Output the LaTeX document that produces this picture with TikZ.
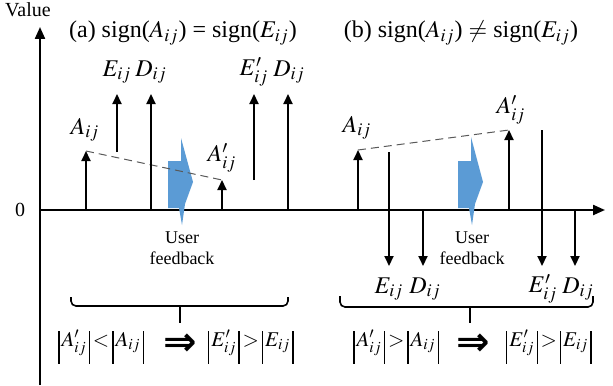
\documentclass[tikz,border=0pt]{standalone}
\usepackage{mathptmx}
\usepackage[no-math]{fontspec}
\setmainfont{Liberation Serif}
\newfontfamily\symfont{DejaVu Sans}
\usetikzlibrary{arrows.meta}
\definecolor{fbblue}{RGB}{91,155,213}
\newcommand{\absv}[1]{\rule[-8.5pt]{0.6pt}{16.5pt}\hspace{1pt}#1\hspace{1pt}\rule[-8.5pt]{0.6pt}{16.5pt}}
\tikzset{
  axs/.style={-{Triangle[width=5pt,length=6pt]}, line width=1.1pt},
  vec/.style={-{Triangle[width=4.5pt,length=5pt]}, line width=1pt},
  lbl/.style={inner sep=0pt, font=\fontsize{12}{14}\selectfont},
  fbk/.style={inner sep=0pt, align=center, font=\fontsize{9}{10.5}\selectfont},
  dsh/.style={dash pattern=on 4pt off 2.5pt, black!65, line width=0.5pt},
  blk/.style={fill=fbblue, draw=none},
  brc/.style={line width=0.8pt, rounded corners=2.5pt},
  rel/.style={inner sep=0pt, font=\fontsize{10.5}{12}\selectfont},
  imp/.style={inner sep=0pt, font=\symfont\bfseries\fontsize{20}{20}\selectfont}
}

\begin{document}
\begin{tikzpicture}[x=0.5pt, y=-0.5pt]
\useasboundingbox (0,0) rectangle (613,385);
% axes
\coordinate (org) at (40,210);
\coordinate (ytop) at (40,27);
\coordinate (ybot) at (40,385);
\coordinate (xend) at (605,210);
\draw[axs] (ybot) -- (ytop);
\draw[axs] (org) -- (xend);
\node[font=\fontsize{10}{12}\selectfont, inner sep=0pt] (val) at (28,10) {Value};
\node[font=\fontsize{10}{12}\selectfont, inner sep=0pt] (zero) at (20,210) {0};

% (a)
\node[lbl] (ta) at (183,33) {(a) sign($A_{ij}$) = sign($E_{ij}$)};
\coordinate (aA0) at (86,210);  \coordinate (aA1) at (86,151);
\coordinate (aE0) at (117,152); \coordinate (aE1) at (117,94);
\coordinate (aD0) at (151,210); \coordinate (aD1) at (151,94);
\coordinate (aP0) at (222,210); \coordinate (aP1) at (222,180);
\coordinate (aQ0) at (254,180); \coordinate (aQ1) at (254,94);
\coordinate (aR0) at (288,210); \coordinate (aR1) at (288,94);
\draw[blk] (168,161) -- (181,161) -- (181,138) -- (193,182) -- (185,204)
  -- (182,225) -- (179,208) -- (168,208) -- cycle;
\draw[dsh] (aA1) -- (aP1);
\draw[vec] (aA0) -- (aA1); \draw[vec] (aE0) -- (aE1); \draw[vec] (aD0) -- (aD1);
\draw[vec] (aP0) -- (aP1); \draw[vec] (aQ0) -- (aQ1); \draw[vec] (aR0) -- (aR1);
\node[lbl] (aA) at (85,130) {$A_{ij}$};
\node[lbl] (aE) at (117,72) {$E_{ij}$};
\node[lbl] (aD) at (151,72) {$D_{ij}$};
\node[lbl] (aP) at (222,158) {$A'_{ij}$};
\node[lbl] (aQ) at (254,72) {$E'_{ij}$};
\node[lbl] (aR) at (289,72) {$D_{ij}$};
\node[fbk] (fa) at (182,248) {User\\feedback};
\coordinate (braL) at (71,297); \coordinate (braR) at (288,297);
\coordinate (braM) at (180,306); \coordinate (braT) at (180,323);
\draw[brc] (braL) |- (braM) -| (braR);
\draw[brc] (braM) -- (braT);
\node[rel, anchor=west] (ra1) at (58,347) {\absv{$A'_{ij}$}\hspace{1.5pt}$<$\hspace{1.5pt}\absv{$A_{ij}$}};
\node[imp] (raa) at (180,345) {⇒};
\node[rel, anchor=east] (ra2) at (294,347) {\absv{$E'_{ij}$}\hspace{1.5pt}$>$\hspace{1.5pt}\absv{$E_{ij}$}};

% (b)
\node[lbl] (tb) at (461,33) {(b) sign($A_{ij}$) $\neq$ sign($E_{ij}$)};
\coordinate (bA0) at (358,210); \coordinate (bA1) at (358,150);
\coordinate (bE0) at (389,152); \coordinate (bE1) at (389,266);
\coordinate (bD0) at (423,210); \coordinate (bD1) at (423,266);
\coordinate (bP0) at (509,210); \coordinate (bP1) at (509,130);
\coordinate (bQ0) at (542,130); \coordinate (bQ1) at (542,266);
\coordinate (bR0) at (575,210); \coordinate (bR1) at (575,266);
\draw[blk] (458,161) -- (471,161) -- (471,137) -- (483,182) -- (475,204)
  -- (472,225) -- (469,208) -- (458,208) -- cycle;
\draw[dsh] (bA1) -- (bP1);
\draw[vec] (bA0) -- (bA1); \draw[vec] (bE0) -- (bE1); \draw[vec] (bD0) -- (bD1);
\draw[vec] (bP0) -- (bP1); \draw[vec] (bQ0) -- (bQ1); \draw[vec] (bR0) -- (bR1);
\node[lbl] (bA) at (357,128) {$A_{ij}$};
\node[lbl] (bP) at (511,110) {$A'_{ij}$};
\node[lbl] (bE) at (389,289) {$E_{ij}$};
\node[lbl] (bD) at (425,289) {$D_{ij}$};
\node[lbl] (bQ) at (543,289) {$E'_{ij}$};
\node[lbl] (bR) at (578,289) {$D_{ij}$};
\node[fbk] (fb) at (472,248) {User\\feedback};
\coordinate (brbL) at (340,296); \coordinate (brbR) at (593,296);
\coordinate (brbM) at (470,307); \coordinate (brbT) at (470,323);
\draw[brc] (brbL) |- (brbM) -| (brbR);
\draw[brc] (brbM) -- (brbT);
\node[rel, anchor=west] (rb1) at (353,347) {\absv{$A'_{ij}$}\hspace{1.5pt}$>$\hspace{1.5pt}\absv{$A_{ij}$}};
\node[imp] (rba) at (473,345) {⇒};
\node[rel, anchor=east] (rb2) at (592,347) {\absv{$E'_{ij}$}\hspace{1.5pt}$>$\hspace{1.5pt}\absv{$E_{ij}$}};
\end{tikzpicture}
\end{document}
